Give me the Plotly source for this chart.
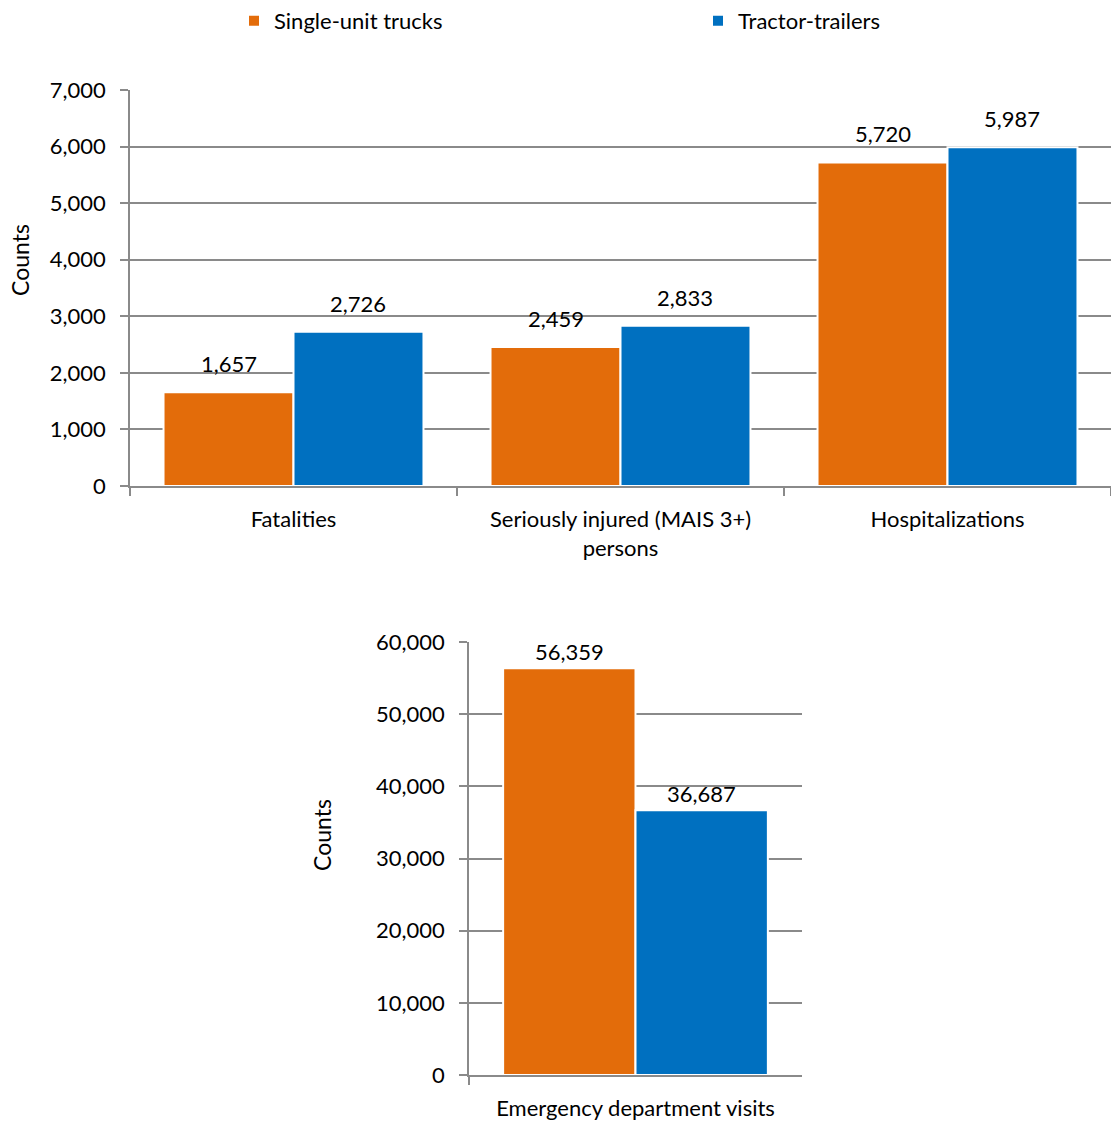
import plotly.graph_objects as go

categories_top = ["Fatalities", "Seriously injured (MAIS 3+)<br>persons", "Hospitalizations"]
single_unit_top = [1657, 2459, 5720]
tractor_top = [2726, 2833, 5987]

categories_bottom = ["Emergency department visits"]
single_unit_bottom = [56359]
tractor_bottom = [36687]

series_names = ["Single-unit trucks", "Tractor-trailers"]
ORANGE = "#E36C0A"
BLUE = "#0070C0"
GRID = "#8a8a8a"
FONT = "Lato"
FS = 22
BARGAP = 0.205

W, H = 1111, 1122
TOP_X = [130 / W, 1.0]
BOT_X = [469 / W, 802 / W]

fig = go.Figure()

def add_bar(x, y, name, color, xa, ya, show, legend):
    fig.add_trace(go.Bar(
        x=x, y=y, name=name, marker=dict(color=color, line=dict(color="white", width=2)),
        xaxis=xa, yaxis=ya, showlegend=show, legendgroup=name, legend=legend,
        hovertemplate="%{x}: %{y:,}<extra>" + name + "</extra>",
    ))

add_bar(categories_top, single_unit_top, series_names[0], ORANGE, "x", "y", True, "legend")
add_bar(categories_top, tractor_top, series_names[1], BLUE, "x", "y", True, "legend2")
add_bar(categories_bottom, single_unit_bottom, series_names[0], ORANGE, "x2", "y2", False, "legend")
add_bar(categories_bottom, tractor_bottom, series_names[1], BLUE, "x2", "y2", False, "legend2")

# Data labels positioned via axis coordinates (category + value), shifted to each bar's center
annotations = []
def add_labels(cats, vals_a, vals_b, xref, yref, domain, ncat, yshift):
    cat_px = (domain[1] - domain[0]) * W / ncat
    half_bar = cat_px * (1 - BARGAP) / 4
    for c, va, vb in zip(cats, vals_a, vals_b):
        for v, s in ((va, -half_bar), (vb, half_bar)):
            annotations.append(dict(
                x=c, y=v, xref=xref, yref=yref, text=f"{v:,}", showarrow=False,
                xanchor="center", yanchor="bottom", xshift=s, yshift=yshift,
                font=dict(family=FONT, size=FS, color="black")))

add_labels(categories_top, single_unit_top, tractor_top, "x", "y", TOP_X, len(categories_top), 13)
add_labels(categories_bottom, single_unit_bottom, tractor_bottom, "x2", "y2", BOT_X, len(categories_bottom), 1)

annotations += [
    dict(text="Counts", textangle=-90, xref="paper", yref="paper", x=20 / W, y=1 - 260 / H,
         xanchor="center", yanchor="middle",
         showarrow=False, font=dict(family=FONT, size=FS + 1, color="black")),
    dict(text="Counts", textangle=-90, xref="paper", yref="paper", x=322 / W, y=1 - 835 / H,
         xanchor="center", yanchor="middle",
         showarrow=False, font=dict(family=FONT, size=FS + 1, color="black")),
]

axis_common = dict(showline=True, linecolor=GRID, linewidth=1.5, ticks="outside",
                   tickcolor=GRID, ticklen=8, tickwidth=1.5, automargin=False,
                   tickfont=dict(family=FONT, size=FS, color="black"))

legend_common = dict(orientation="h", xanchor="left", y=1.0, yanchor="top",
                     font=dict(family=FONT, size=FS, color="black"), bgcolor="rgba(0,0,0,0)")

fig.update_layout(
    width=W, height=H,
    margin=dict(l=0, r=0, t=0, b=0, autoexpand=False),
    paper_bgcolor="white", plot_bgcolor="white",
    barmode="group", bargap=BARGAP, bargroupgap=0,
    font=dict(family=FONT, size=FS, color="black"),
    legend=dict(x=234 / W, **legend_common),
    legend2=dict(x=698 / W, **legend_common),
    xaxis=dict(domain=TOP_X, anchor="y", tickson="boundaries", ticklabelstandoff=13, **axis_common),
    yaxis=dict(domain=[1 - 486 / H, 1 - 90 / H], anchor="x", range=[0, 7000], dtick=1000,
               tickformat=",", showgrid=True, gridcolor=GRID, gridwidth=1.5,
               ticklabelstandoff=10, **axis_common),
    xaxis2=dict(domain=BOT_X, anchor="y2", tickson="boundaries", ticklabelstandoff=13, **axis_common),
    yaxis2=dict(domain=[1 - 1075 / H, 1 - 642 / H], anchor="x2", range=[0, 60000], dtick=10000,
                tickformat=",", showgrid=True, gridcolor=GRID, gridwidth=1.5,
                ticklabelstandoff=10, **axis_common),
    annotations=annotations,
)

fig.write_html("out.html")
